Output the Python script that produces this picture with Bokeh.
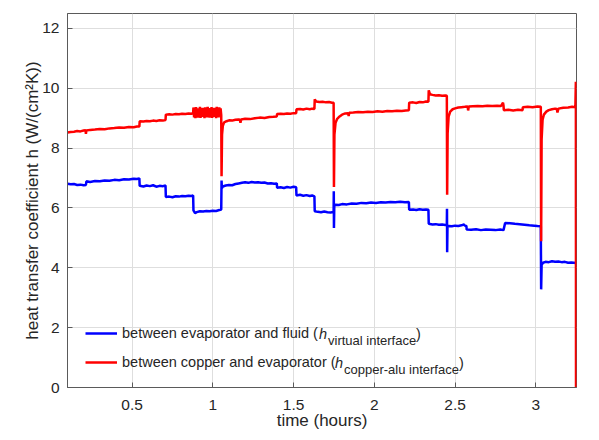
from bokeh.plotting import figure
from bokeh.models import (Range1d, Legend, LegendItem, Label,
                          FixedTicker, NumeralTickFormatter)
from bokeh.embed import file_html
from bokeh.resources import INLINE

# ---------------- data ----------------
x_ticks = [0.5, 1, 1.5, 2, 2.5, 3]
y_ticks = [0, 2, 4, 6, 8, 10, 12]

red_time = [
    0.100, 0.120, 0.140, 0.160, 0.180, 0.200, 0.212, 0.214, 0.217, 0.240, 0.270,
    0.300, 0.330, 0.360, 0.390, 0.420, 0.450, 0.480, 0.510, 0.530, 0.545,
    0.547, 0.570, 0.590, 0.610, 0.630, 0.650, 0.670, 0.690, 0.707,
    0.709, 0.730, 0.750, 0.770, 0.790, 0.810, 0.830, 0.850, 0.868, 0.878,
    0.880, 0.884, 0.888, 0.892, 0.896, 0.900, 0.904, 0.908, 0.912, 0.916,
    0.920, 0.924, 0.928, 0.932, 0.936, 0.940, 0.944, 0.948, 0.952, 0.956,
    0.960, 0.964, 0.968, 0.972, 0.976, 0.980, 0.984, 0.988, 0.992, 0.996,
    1.000, 1.004, 1.008, 1.012, 1.016, 1.020, 1.024, 1.028, 1.032, 1.036,
    1.040, 1.044, 1.048, 1.052,
    1.054, 1.057, 1.062, 1.070, 1.085, 1.100, 1.120, 1.140, 1.160, 1.168,
    1.171, 1.175, 1.200, 1.230, 1.260, 1.290, 1.320, 1.350, 1.375, 1.396,
    1.398, 1.420, 1.440, 1.460, 1.480, 1.500, 1.516,
    1.518, 1.540, 1.560, 1.580, 1.600, 1.615, 1.629,
    1.631, 1.640, 1.660, 1.680, 1.700, 1.720, 1.738, 1.748,
    1.750, 1.753, 1.760, 1.770, 1.785, 1.800, 1.820, 1.838, 1.841, 1.845,
    1.870, 1.900, 1.930, 1.960, 1.990, 2.020, 2.050, 2.080, 2.110, 2.140,
    2.170, 2.195, 2.214,
    2.216, 2.240, 2.260, 2.280, 2.300, 2.320, 2.335,
    2.337, 2.345, 2.360, 2.380, 2.400, 2.420, 2.440, 2.449,
    2.451, 2.454, 2.460, 2.470, 2.485, 2.500, 2.520, 2.540, 2.560, 2.578,
    2.581, 2.585, 2.610, 2.640, 2.670, 2.700, 2.730, 2.760, 2.785, 2.797, 2.800,
    2.802, 2.830, 2.860, 2.890, 2.918,
    2.920, 2.950, 2.980, 3.010, 3.031,
    3.033, 3.036, 3.042, 3.050, 3.065, 3.080, 3.100, 3.120, 3.130, 3.134,
    3.140, 3.170, 3.200, 3.225, 3.245,
    3.248, 3.249,
]
red_h = [
    8.52, 8.54, 8.55, 8.57, 8.56, 8.59, 8.60, 8.48, 8.59, 8.61, 8.62,
    8.64, 8.63, 8.66, 8.67, 8.69, 8.68, 8.71, 8.70, 8.72, 8.72,
    8.90, 8.89, 8.91, 8.90, 8.92, 8.91, 8.93, 8.92, 8.94,
    9.12, 9.13, 9.12, 9.14, 9.13, 9.15, 9.14, 9.16, 9.15, 9.17,
    9.36, 9.03, 9.30, 9.00, 9.37, 9.07, 9.33, 9.02, 9.28, 9.05,
    9.38, 9.01, 9.31, 9.08, 9.35, 9.04, 9.29, 9.00, 9.36, 9.06,
    9.32, 9.03, 9.38, 9.09, 9.27, 9.02, 9.34, 9.05, 9.37, 9.01,
    9.30, 9.07, 9.35, 9.04, 9.31, 9.00, 9.38, 9.06, 9.29, 9.03,
    9.36, 9.08, 9.33, 9.10,
    7.06, 8.45, 8.75, 8.86, 8.90, 8.93, 8.92, 8.95, 8.96, 8.95,
    8.85, 8.96, 8.98, 8.97, 9.00, 9.02, 9.01, 9.04, 9.05, 9.06,
    9.14, 9.15, 9.14, 9.16, 9.15, 9.17, 9.17,
    9.30, 9.31, 9.29, 9.32, 9.30, 9.32, 9.31,
    9.63, 9.56, 9.54, 9.55, 9.53, 9.54, 9.52, 9.52,
    6.70, 8.45, 8.85, 8.98, 9.06, 9.12, 9.16, 9.17, 9.07, 9.18,
    9.19, 9.21, 9.20, 9.22, 9.21, 9.23, 9.22, 9.24, 9.23, 9.25,
    9.24, 9.26, 9.27,
    9.52, 9.53, 9.51, 9.54, 9.53, 9.56, 9.55,
    9.93, 9.80, 9.78, 9.76, 9.77, 9.75, 9.76, 9.75,
    6.44, 8.50, 9.05, 9.22, 9.30, 9.33, 9.36, 9.37, 9.38, 9.39,
    9.26, 9.39, 9.40, 9.41, 9.40, 9.42, 9.41, 9.42, 9.41, 9.52, 9.42,
    9.27, 9.28, 9.26, 9.28, 9.27,
    9.37, 9.38, 9.37, 9.39, 9.38,
    4.89, 8.30, 8.95, 9.12, 9.22, 9.27, 9.30, 9.32, 9.31, 9.19,
    9.32, 9.35, 9.36, 9.38, 9.37,
    10.22, 0.0,
]

blue_time = [
    0.100, 0.120, 0.140, 0.160, 0.180, 0.200, 0.214, 0.217, 0.240, 0.270,
    0.300, 0.330, 0.360, 0.390, 0.420, 0.450, 0.480, 0.510, 0.530, 0.545,
    0.547, 0.570, 0.590, 0.610, 0.630, 0.650, 0.670, 0.690, 0.707,
    0.709, 0.730, 0.750, 0.770, 0.790, 0.810, 0.830, 0.850, 0.868, 0.878,
    0.880, 0.890, 0.900, 0.920, 0.940, 0.960, 0.980, 1.000, 1.020, 1.040, 1.052,
    1.054, 1.056, 1.062, 1.080, 1.100, 1.120, 1.140, 1.160, 1.180, 1.200,
    1.220, 1.240, 1.260, 1.280, 1.300, 1.320, 1.340, 1.360, 1.380, 1.396,
    1.398, 1.420, 1.440, 1.460, 1.480, 1.500, 1.516,
    1.518, 1.540, 1.560, 1.580, 1.600, 1.615, 1.629,
    1.631, 1.650, 1.670, 1.690, 1.710, 1.730, 1.748,
    1.749, 1.750, 1.752, 1.760, 1.780, 1.800, 1.830, 1.860, 1.890, 1.920,
    1.950, 1.980, 2.010, 2.040, 2.070, 2.100, 2.130, 2.160, 2.190, 2.214,
    2.216, 2.240, 2.260, 2.280, 2.300, 2.320, 2.335,
    2.337, 2.360, 2.380, 2.400, 2.420, 2.440, 2.449,
    2.450, 2.451, 2.453, 2.460, 2.480, 2.500, 2.520, 2.540, 2.555, 2.560, 2.570,
    2.572, 2.600, 2.630, 2.660, 2.690, 2.720, 2.750, 2.780, 2.800,
    2.810, 2.840, 2.870, 2.900, 2.930, 2.960, 2.990, 3.010, 3.031,
    3.033, 3.036, 3.045, 3.060, 3.080, 3.100, 3.120, 3.140, 3.160, 3.180,
    3.200, 3.220, 3.249,
]
blue_h = [
    6.81, 6.79, 6.80, 6.77, 6.78, 6.76, 6.77, 6.89, 6.87, 6.90,
    6.89, 6.92, 6.91, 6.94, 6.93, 6.96, 6.95, 6.98, 6.97, 6.99,
    6.74, 6.72, 6.75, 6.73, 6.76, 6.71, 6.74, 6.73, 6.75,
    6.37, 6.38, 6.36, 6.39, 6.38, 6.40, 6.39, 6.41, 6.40, 6.42,
    5.92, 5.83, 5.86, 5.89, 5.88, 5.90, 5.89, 5.91, 5.90, 5.93, 5.95,
    6.92, 6.66, 6.72, 6.75, 6.77, 6.76, 6.80, 6.82, 6.84, 6.86,
    6.84, 6.87, 6.85, 6.86, 6.84, 6.85, 6.82, 6.83, 6.81, 6.82,
    6.68, 6.69, 6.67, 6.70, 6.68, 6.71, 6.69,
    6.42, 6.44, 6.41, 6.43, 6.40, 6.42, 6.39,
    5.89, 5.87, 5.86, 5.88, 5.86, 5.85, 5.87,
    6.56, 5.33, 6.06, 6.11, 6.10, 6.13, 6.12, 6.15, 6.14, 6.17,
    6.16, 6.18, 6.17, 6.19, 6.18, 6.20, 6.19, 6.21, 6.19, 6.20,
    5.94, 5.95, 5.93, 5.96, 5.94, 5.95, 5.94,
    5.47, 5.45, 5.46, 5.44, 5.45, 5.43, 5.44,
    5.97, 4.52, 5.36, 5.40, 5.39, 5.41, 5.40, 5.42, 5.45, 5.41, 5.40,
    5.28, 5.27, 5.29, 5.26, 5.28, 5.27, 5.26, 5.28, 5.26,
    5.50, 5.49, 5.47, 5.46, 5.44, 5.42, 5.41, 5.40, 5.39,
    3.28, 4.10, 4.17, 4.20, 4.19, 4.22, 4.20, 4.21, 4.19, 4.20,
    4.17, 4.18, 4.16,
]

legend_labels = ["between evaporator and fluid (", "between copper and evaporator ("]
legend_subscripts = ["virtual interface", "copper-alu interface"]

# ---------------- figure ----------------
FONT = "Liberation Sans"
TXT = "#262626"
AX = "#5a5a5a"
W, H = 599, 440
BL, BR, BT, BB = 67, 23, 13, 53
X0, X1 = 0.1, 3.252
Y0, Y1 = 0.0, 12.5

p = figure(width=W, height=H, x_range=Range1d(X0, X1), y_range=Range1d(Y0, Y1),
           output_backend="svg", toolbar_location=None,
           min_border_left=BL, min_border_right=BR,
           min_border_top=BT, min_border_bottom=BB)
p.background_fill_color = "white"
p.border_fill_color = "white"
p.outline_line_color = AX
p.outline_line_width = 1

for ax, ticks in ((p.xaxis[0], x_ticks), (p.yaxis[0], y_ticks)):
    ax.ticker = FixedTicker(ticks=ticks)
    ax.formatter = NumeralTickFormatter(format="0.[0]")
    ax.major_tick_in = 5
    ax.major_tick_out = 0
    ax.minor_tick_in = 0
    ax.minor_tick_out = 0
    ax.axis_line_color = AX
    ax.major_tick_line_color = AX
    ax.major_label_text_font = FONT
    ax.major_label_text_font_size = "15.5px"
    ax.major_label_text_color = TXT
    ax.axis_label_text_font = FONT
    ax.axis_label_text_font_size = "17px"
    ax.axis_label_text_font_style = "normal"
    ax.axis_label_text_color = TXT

p.xaxis.axis_label = "time (hours)"
p.xaxis.major_label_standoff = 12
p.xaxis.axis_label_standoff = -2
p.yaxis.axis_label = "heat transfer coefficient h (W/(cm²K))"
p.yaxis.major_label_standoff = 8
p.yaxis.axis_label_standoff = -3

p.grid.grid_line_color = "#dedede"
p.grid.grid_line_width = 1

blue_r = p.line(blue_time, blue_h, line_color="#0000ff", line_width=2.5)
red_r = p.line(red_time, red_h, line_color="#ff0000", line_width=2.5)

legend = Legend(items=[LegendItem(label=legend_labels[0], renderers=[blue_r]),
                       LegendItem(label=legend_labels[1], renderers=[red_r])],
                location=(18, 15), orientation="vertical",
                glyph_width=32, glyph_height=20, label_height=20, spacing=9,
                label_standoff=5, padding=0, margin=0,
                border_line_alpha=0, background_fill_alpha=0,
                label_text_font=FONT, label_text_font_size="14.5px",
                label_text_color=TXT)
p.add_layout(legend)

# helper: picture pixel -> data coordinates for the legend's extra texts
fw = W - BL - BR
fh = H - BT - BB
def px_x(px):
    return X0 + (px - BL) * (X1 - X0) / fw
def px_y(py):
    return Y0 + (H - BB - py) * (Y1 - Y0) / fh

rows = [(333, 340, 318.5, 327.5, 415.5), (362, 369, 334.5, 343.5, 458.5)]
for (yc, ys, xh, xs, xp), sub in zip(rows, legend_subscripts):
    p.add_layout(Label(x=px_x(xh), y=px_y(yc), text="h", text_font=FONT,
                       text_font_style="italic", text_font_size="14.5px",
                       text_baseline="middle", text_align="left", text_color=TXT))
    p.add_layout(Label(x=px_x(xs), y=px_y(ys), text=sub, text_font=FONT,
                       text_font_size="13px", text_baseline="middle",
                       text_align="left", text_color=TXT))
    p.add_layout(Label(x=px_x(xp), y=px_y(yc), text=")", text_font=FONT,
                       text_font_size="14.5px", text_baseline="middle",
                       text_align="left", text_color=TXT))

open("out.html", "w").write(file_html(p, INLINE))
